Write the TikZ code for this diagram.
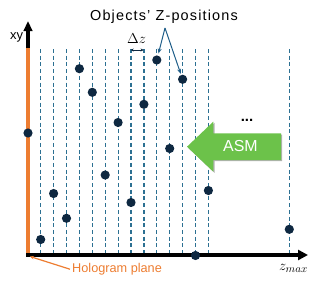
\documentclass[tikz,border=0pt]{standalone}
\usepackage{fontspec}
\setmainfont{Liberation Sans}
\usetikzlibrary{arrows.meta,shadows}
\definecolor{navy}{RGB}{14,40,65}
\definecolor{dashc}{RGB}{44,112,146}
\definecolor{ptr}{RGB}{31,94,137}
\definecolor{orng}{RGB}{237,125,49}
\definecolor{grn}{RGB}{108,194,74}
\begin{document}
\begin{tikzpicture}[x=1bp,y=-1bp,
  dot/.style={circle,fill=navy,inner sep=0pt,minimum size=9.2bp},
  zline/.style={dashc,line width=1.2bp,dash pattern=on 4bp off 2.7bp},
  axisline/.style={line width=3.6bp},
  ptrline/.style={ptr,line width=1bp,-{Stealth[length=5bp,width=4bp]}},
  lbl/.style={inner sep=0pt}]
\useasboundingbox (0,0) rectangle (319,283);
% z-planes
\foreach \k in {0,...,13}{
  \draw[zline] ({40.7+12.9*\k},49) -- ({40.7+12.9*\k},253);
}
\draw[zline] (289.3,49) -- (289.3,253);
\coordinate (dzL) at (130.7,50);
\coordinate (dzR) at (143.6,50);
% axes
\coordinate (o) at (28,255);
\coordinate (ym) at (28,48);
\coordinate (yt) at (28,21);
\coordinate (xs) at (26.2,255);
\coordinate (xt) at (308,255);
\draw[axisline,orng] (o) -- (ym);
\draw[axisline,-{Triangle[length=10bp,width=8.5bp]}] (ym) -- (yt);
\draw[axisline,-{Triangle[length=10bp,width=10bp]}] (xs) -- (xt);
% objects
\node[dot] (d1) at (28,133) {};
\node[dot] (d2) at (40.7,239.5) {};
\node[dot] (d3) at (53.6,193.5) {};
\node[dot] (d4) at (66.5,218.3) {};
\node[dot] (d5) at (79.4,68.7) {};
\node[dot] (d6) at (92.3,92.3) {};
\node[dot] (d7) at (105.2,175) {};
\node[dot] (d8) at (118.1,122.5) {};
\node[dot] (d9) at (131,202.5) {};
\node[dot] (d10) at (143.9,104.3) {};
\node[dot] (d11) at (156.8,60) {};
\node[dot] (d12) at (169.7,148.5) {};
\node[dot] (d13) at (182.6,79.3) {};
\node[dot] (d14) at (195.5,255.5) {};
\node[dot] (d15) at (208.4,190.5) {};
\node[dot] (d16) at (289.3,229.3) {};
% labels
\node[lbl,anchor=base,font=\fontsize{14.5}{16}\selectfont\addfontfeature{LetterSpace=8}] (title) at (164,20.5) {Objects’ Z-positions};
\coordinate (apex) at (165,28);
\draw[ptrline,shorten >=2bp] (apex) -- (d11);
\draw[ptrline,shorten >=1bp] (apex) -- (d13);
\draw[navy,line width=0.8bp,{Stealth[length=3bp,width=3bp]}-{Stealth[length=3bp,width=3bp]}] (dzL) -- (dzR);
\node[lbl,anchor=base,font=\fontsize{14.5}{14.5}\selectfont] (dz) at (136.5,43.5) {$\Delta z$};
\node[lbl,anchor=base west,font=\fontsize{13}{13}\selectfont] (xy) at (10,39.5) {xy};
\node[lbl,anchor=base,font=\fontsize{15}{15}\selectfont] (zmax) at (293.5,270) {$z_{max}$};
\node[lbl,anchor=base west,orng,font=\fontsize{12.75}{13}\selectfont] (hp) at (72,272.5) {Hologram plane};
\coordinate (hps) at ([xshift=-2bp]hp.west);
\coordinate (hpe) at (30,256.5);
\draw[orng,line width=1.2bp,-{Stealth[length=4bp,width=3.5bp]}] (hps) -- (hpe);
% ASM arrow
\fill[grn,drop shadow={shadow xshift=1.2bp,shadow yshift=-1.2bp,opacity=0.3,fill=black}]
  (187,146.7) -- (213.3,121.7) -- (213.3,133.3) -- (281,133.3) -- (281,160) -- (213.3,160) -- (213.3,171.7) -- cycle;
\node[lbl,white,font=\fontsize{16}{16}\selectfont] (asm) at (240.5,146.3) {ASM};
\node[lbl,anchor=base,font=\bfseries\fontsize{15}{15}\selectfont] (dots) at (247,121.7) {...};
\end{tikzpicture}
\end{document}
